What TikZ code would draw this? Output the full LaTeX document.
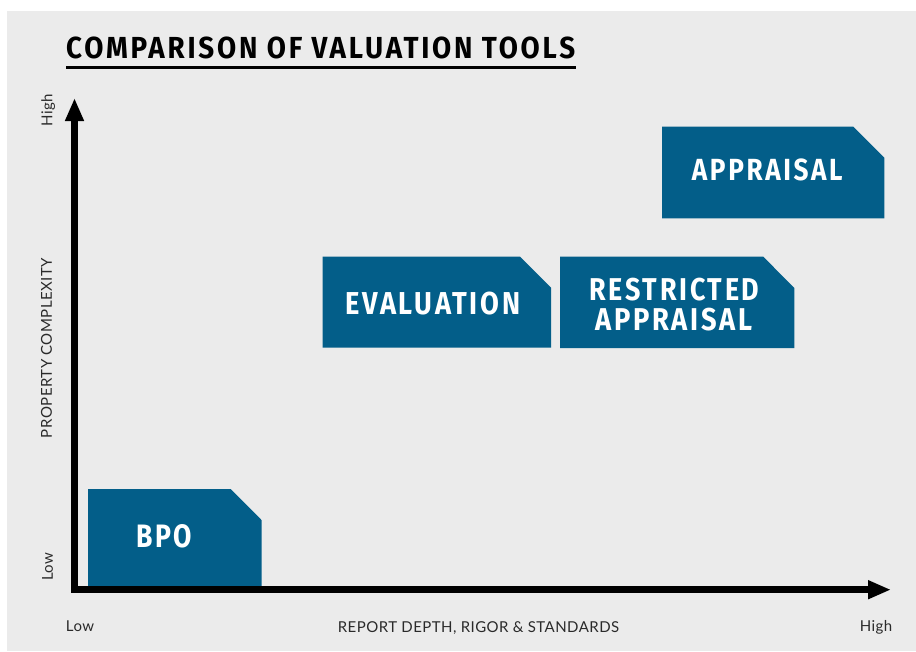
\documentclass[tikz,border=0pt]{standalone}
\usepackage{fontspec}
\usepackage{graphicx}
\setmainfont{Lato}
\newfontfamily\headfont[LetterSpace=10]{Fira Sans}
\newfontfamily\labelfont[LetterSpace=3]{Lato}
\usetikzlibrary{arrows.meta}
\definecolor{bggray}{HTML}{EBEBEB}
\definecolor{boxblue}{HTML}{035E89}
\definecolor{labelgray}{HTML}{2A2A2A}
\tikzset{
  bluebox/.style={fill=boxblue},
  boxtext/.style={inner sep=0pt, anchor=south west, text=white, font=\headfont\bfseries},
  axislabel/.style={inner sep=0pt, text=labelgray, font=\labelfont\fontsize{15}{17}\selectfont},
  axisline/.style={line width=7.3pt, line join=miter,
    {Triangle[length=23pt 0 0, width=17.5pt 0 0]}-{Triangle[length=23pt 0 0, width=17.5pt 0 0]}},
}
\begin{document}
\begin{tikzpicture}[x=1pt,y=-1pt]
\useasboundingbox (0,0) rectangle (916,651);
\fill[bggray] (7,11) rectangle (916,651);

% title
\node[inner sep=0pt, anchor=south west, font=\headfont\bfseries] (title) at (66,59.3)
  {\resizebox{509pt}{21.6pt}{COMPARISON OF VALUATION TOOLS}};
\coordinate (ulL) at (66,67.3);
\coordinate (ulR) at (576,67.3);
\draw[line width=3.3pt] (ulL) -- (ulR);

% boxes
\fill[bluebox] (88,489) -- (230.7,489) -- (261.5,520) -- (261.5,586) -- (88,586) -- cycle;
\fill[bluebox] (322.7,256.7) -- (520,256.7) -- (551,287.7) -- (551,347.7) -- (322.7,347.7) -- cycle;
\fill[bluebox] (560,256.7) -- (763.3,256.7) -- (794.3,288) -- (794.3,348) -- (560,348) -- cycle;
\fill[bluebox] (662,126.7) -- (853.3,126.7) -- (884.3,157.7) -- (884.3,218.3) -- (662,218.3) -- cycle;

\node[boxtext] (bpo) at (136,548.3) {\resizebox{56pt}{23pt}{BPO}};
\node[boxtext] (evaluation) at (345,315) {\resizebox{175pt}{22.5pt}{EVALUATION}};
\node[boxtext] (restricted) at (589.3,301.7) {\resizebox{170pt}{22.4pt}{RESTRICTED}};
\node[boxtext] (restrictedappr) at (595,331.7) {\resizebox{157pt}{22.4pt}{APPRAISAL}};
\node[boxtext] (appraisal) at (691.7,181.7) {\resizebox{150.6pt}{21.7pt}{APPRAISAL}};

% axes
\coordinate (origin) at (74.5,589.7);
\coordinate (ytip) at (74.5,98);
\coordinate (xtip) at (891,589.7);
\draw[axisline] (ytip) -- (origin) -- (xtip);

% axis labels
\node[axislabel, rotate=90] (yhigh) at (48.3,110) {High};
\node[axislabel, rotate=90] (ylow) at (47.5,566.5) {Low};
\node[axislabel, rotate=90] (ytitle) at (46.5,348) {PROPERTY COMPLEXITY};
\node[axislabel, anchor=base] (xlow) at (80,631.7) {Low};
\node[axislabel, anchor=base] (xtitle) at (478.5,632.3) {REPORT DEPTH, RIGOR \& STANDARDS};
\node[axislabel, anchor=base] (xhigh) at (876,631.7) {High};
\end{tikzpicture}
\end{document}
